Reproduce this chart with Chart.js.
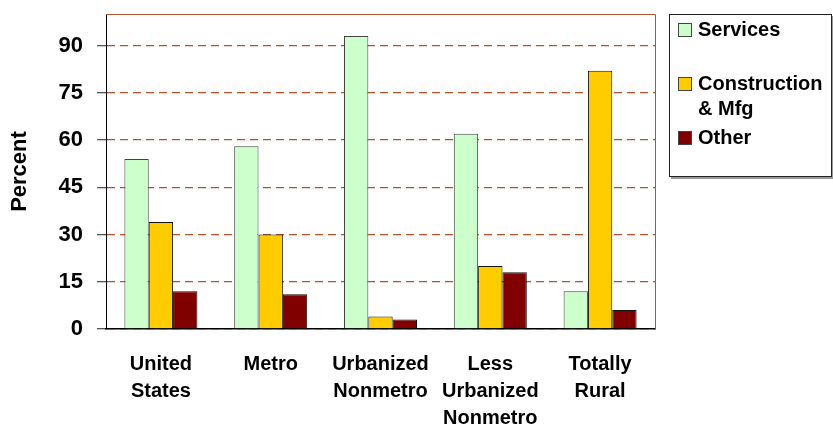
<!DOCTYPE html>
<html>
<head>
<meta charset="utf-8">
<script src="https://cdn.jsdelivr.net/npm/chart.js@4/dist/chart.umd.min.js"></script>
<style>
  html, body { margin: 0; padding: 0; background: #fff; }
  #box { position: relative; width: 833px; height: 426px; }
</style>
</head>
<body>
<div id="box"><canvas id="grafico" width="833" height="426"></canvas></div>
<script>
var categorias = [["United", "States"], ["Metro"], ["Urbanized", "Nonmetro"], ["Less", "Urbanized", "Nonmetro"], ["Totally", "Rural"]];
var servicos = [54, 58, 93, 62, 12];
var construcao = [34, 30, 4, 20, 82];
var outros = [12, 11, 3, 18, 6];
var marcasY = [0, 15, 30, 45, 60, 75, 90];

var fonte = "'Liberation Sans', Arial, sans-serif";

// borda do plot (topo e direita) e legenda desenhada a mao
var extras = {
  id: "extras",
  afterDatasetsDraw: function (chart) {
    var ctx = chart.ctx;
    var a = chart.chartArea;
    ctx.save();
    ctx.strokeStyle = "#b5532a";
    ctx.lineWidth = 1;
    ctx.beginPath();
    ctx.moveTo(a.left, a.top + 0.5);
    ctx.lineTo(a.right + 0.5, a.top + 0.5);
    ctx.lineTo(a.right + 0.5, a.bottom);
    ctx.stroke();
    ctx.restore();
  },
  afterDraw: function (chart) {
    var ctx = chart.ctx;
    ctx.save();
    // sombra
    ctx.fillStyle = "#9a9a9a";
    ctx.fillRect(671, 177, 162, 2);
    ctx.fillRect(831, 16, 2, 162);
    ctx.strokeStyle = "#222";
    ctx.lineWidth = 1;
    ctx.fillStyle = "#fff";
    ctx.fillRect(669.5, 14.5, 162, 162);
    ctx.strokeRect(669.5, 14.5, 162, 162);

    var itens = [
      { ds: 0, y: 30, linhas: ["Services"] },
      { ds: 1, y: 84, linhas: ["Construction", "& Mfg"] },
      { ds: 2, y: 138, linhas: ["Other"] }
    ];
    ctx.font = "bold 20px " + fonte;
    ctx.textBaseline = "middle";
    itens.forEach(function (it) {
      var ds = chart.data.datasets[it.ds];
      ctx.fillStyle = ds.backgroundColor;
      ctx.fillRect(678.5, it.y - 6.5, 13, 13);
      ctx.strokeStyle = "#444";
      ctx.strokeRect(678.5, it.y - 6.5, 13, 13);
      ctx.fillStyle = "#000";
      for (var k = 0; k < it.linhas.length; k++) {
        ctx.fillText(it.linhas[k], 698, it.y + k * 25);
      }
    });
    ctx.restore();
  }
};

function init() {
  var ctx = document.getElementById("grafico").getContext("2d");
  new Chart(ctx, {
    type: "bar",
    data: {
      labels: categorias,
      datasets: [
        { label: "Services", data: servicos, backgroundColor: "#ccffcc", borderColor: "#444", borderWidth: 1 },
        { label: "Construction & Mfg", data: construcao, backgroundColor: "#ffcc00", borderColor: "#111", borderWidth: 1 },
        { label: "Other", data: outros, backgroundColor: "#800000", borderColor: "#111", borderWidth: 1 }
      ]
    },
    options: {
      responsive: false,
      animation: false,
      datasets: { bar: { categoryPercentage: 0.665, barPercentage: 1 } },
      layout: { padding: { top: 14, right: 178, left: 0, bottom: 0 } },
      plugins: { legend: { display: false }, tooltip: { enabled: false } },
      scales: {
        x: {
          grid: { display: false, drawTicks: false },
          border: { color: "#000", width: 1.5 },
          ticks: { color: "#000", padding: 22, maxRotation: 0, font: { family: fonte, size: 20, weight: "bold", lineHeight: 1.35 } },
          afterFit: function (s) { s.height = 97; s.paddingTop = 0; s.paddingBottom = 0; }
        },
        y: {
          min: 0,
          max: 100,
          afterBuildTicks: function (s) {
            s.ticks = marcasY.map(function (v) { return { value: v }; });
          },
          grid: { color: "#b8502a", lineWidth: 1.3, tickColor: "#555", tickLength: 9, tickBorderDash: [] },
          border: { color: "#000", width: 1, dash: [8, 5] },
          ticks: { color: "#000", padding: 14, font: { family: fonte, size: 22, weight: "bold" } },
          title: { display: true, text: "Percent", color: "#000", padding: { top: 7, bottom: 0 }, font: { family: fonte, size: 22, weight: "bold" } },
          afterFit: function (s) { s.width = 106; s.paddingTop = 0; s.paddingBottom = 0; }
        }
      }
    },
    plugins: [extras]
  });
}
window.addEventListener("DOMContentLoaded", init);
</script>
</body>
</html>
